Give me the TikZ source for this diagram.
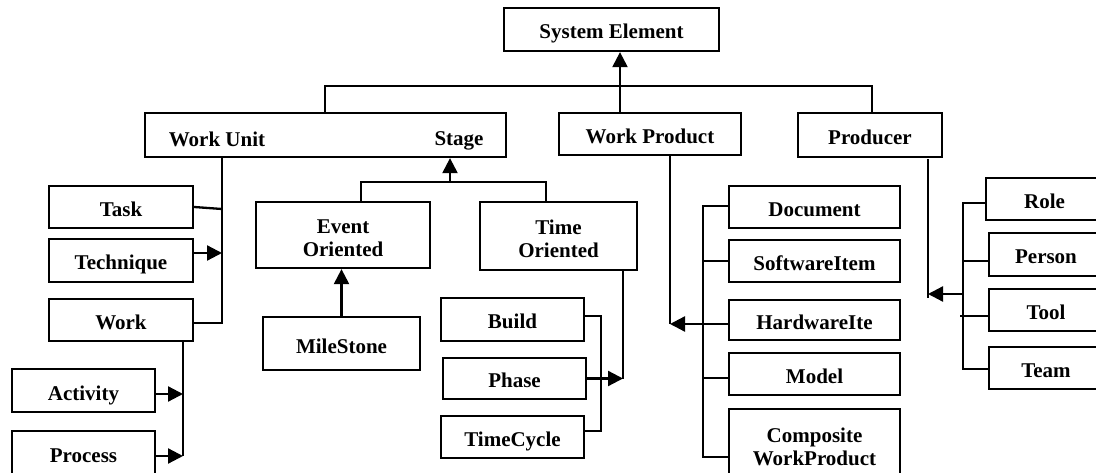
\documentclass[tikz,border=0pt]{standalone}
\usepackage{fontspec}
\setmainfont{Liberation Serif}
\usetikzlibrary{arrows.meta}
\begin{document}
\begin{tikzpicture}[x=1pt,y=-1pt,
  every node/.style={font=\bfseries\fontsize{21}{23}\selectfont},
  box/.style={draw,line width=2.3pt,inner sep=0pt,align=center},
  one/.style={box,text height=19pt,text depth=0pt},
  two/.style={box,text height=44pt,text depth=0pt},
  conn/.style={line width=2.3pt},
  arr/.style={line width=2.3pt,-{Triangle[length=15pt,width=15pt]}}]
\path[use as bounding box] (0,0) rectangle (1096,473);
\clip (0,0) rectangle (1096,473);
% top level
\node[one,minimum width=215,minimum height=43] (sys) at (611.5,29.5) {System Element};
\node[box,minimum width=361,minimum height=44] (wu) at (325.5,135) {};
\node[text depth=0pt] (wutxt) at (217,139) {Work Unit};
\node[text depth=0pt] (sttxt) at (459,139) {Stage};
\node[one,minimum width=182,minimum height=42] (wp) at (650,134) {Work Product};
\node[one,minimum width=144,minimum height=44] (prod) at (870,135) {Producer};
% work unit children
\node[one,minimum width=144,minimum height=42] (task) at (121,207) {Task};
\node[one,minimum width=144,minimum height=43] (tech) at (121,260.5) {Technique};
\node[one,minimum width=144,minimum height=42] (work) at (121,320) {Work};
\node[one,minimum width=143,minimum height=43] (act) at (83.5,390.5) {Activity};
\node[one,minimum width=143,minimum height=44] (proc) at (83.5,453) {Process};
% stage children
\node[two,minimum width=174,minimum height=66] (ev) at (343,235) {Event\\Oriented};
\node[two,minimum width=157,minimum height=68] (to) at (558.5,236) {Time\\Oriented};
\node[one,minimum width=157,minimum height=53] (ms) at (341.5,343.5) {MileStone};
\node[one,minimum width=143,minimum height=43] (build) at (512.5,319.5) {Build};
\node[one,minimum width=143,minimum height=41] (phase) at (514.5,378.5) {Phase};
\node[one,minimum width=143,minimum height=42] (tc) at (512.5,437) {TimeCycle};
% work product children
\node[one,minimum width=171,minimum height=42] (doc) at (814.5,207) {Document};
\node[one,minimum width=171,minimum height=42] (sw) at (814.5,261) {SoftwareItem};
\node[one,minimum width=171,minimum height=40] (hw) at (814.5,320) {HardwareIte};
\node[one,minimum width=171,minimum height=42] (model) at (814.5,374) {Model};
\node[two,minimum width=171,minimum height=68] (comp) at (814.5,443) {Composite\\WorkProduct};
% producer children
\node[one,minimum width=117,minimum height=42] (role) at (1044.5,199) {Role};
\node[one,minimum width=114,minimum height=43] (person) at (1046,254.5) {Person};
\node[one,minimum width=114,minimum height=42] (tool) at (1046,310) {Tool};
\node[one,minimum width=114,minimum height=42] (team) at (1046,368) {Team};
% coordinates
\coordinate (j0) at (620,86);
\coordinate (barL) at (325,86);
\coordinate (barR) at (872,86);
\coordinate (wux) at (222,323);
\coordinate (wkx) at (183,456);
\coordinate (stj) at (450,182);
\coordinate (evx) at (361,182);
\coordinate (tox) at (546,182);
\coordinate (tox2) at (623,378.5);
\coordinate (brT) at (601,316);
\coordinate (brB) at (601,431);
\coordinate (wpx) at (670,324);
\coordinate (bxT) at (703,206);
\coordinate (bxB) at (703,457);
\coordinate (pv) at (928,298);
\coordinate (ptip) at (928,294);
\coordinate (pbx) at (963,294);
\coordinate (rbT) at (963,203);
\coordinate (rbB) at (963,369);
% top connectors
\draw[arr] (wp.north -| j0) -- (sys.south -| j0);
\draw[conn] (wu.north -| barL) -- (barL) -- (barR) -- (prod.north -| barR);
% work unit
\draw[conn] (wu.south -| wux) -- (wux) -- (work.east |- wux);
\draw[conn] (task.east) -- ([yshift=-2pt]task.east -| wux);
\draw[arr] ([yshift=7.5pt]tech.east) -- ([yshift=7.5pt]tech.east -| wux);
\draw[conn] (work.south -| wkx) -- (wkx);
\draw[arr] ([yshift=-3.5pt]act.east) -- ([yshift=-3.5pt]act.east -| wkx);
\draw[arr] (proc.east |- wkx) -- (wkx);
% stage
\draw[arr] (stj) -- (wu.south -| stj);
\draw[conn] (ev.north -| evx) -- (evx) -- (tox) -- (to.north -| tox);
\draw[arr] (ms.north) -- (ev.south -| ms.north);
\draw[conn] (to.south -| tox2) -- (tox2);
\draw[arr] (phase.east) -- (tox2);
\draw[conn] (build.east |- brT) -- (brT) -- (brB) -- (tc.east |- brB);
% work product
\draw[conn] (wp.south -| wpx) -- (wpx);
\draw[arr] (hw.west |- wpx) -- (wpx);
\draw[conn] (doc.west |- bxT) -- (bxT) -- (bxB) -- (comp.west |- bxB);
\draw[conn] (sw.west) -- (sw.west -| bxT);
\draw[conn] ([yshift=-4pt]model.west) -- ([yshift=-4pt]model.west -| bxT);
% producer
\draw[conn] ([yshift=-1pt]prod.south -| pv) -- (pv);
\draw[arr] (pbx) -- (ptip);
\draw[conn] (role.west |- rbT) -- (rbT) -- (rbB) -- (team.west |- rbB);
\draw[conn] ([yshift=-6.5pt]person.west) -- ([yshift=-6.5pt]person.west -| rbT);
\draw[conn] ([yshift=-6pt]tool.west) -- ([yshift=-6pt,xshift=-3pt]tool.west -| rbT);
\end{tikzpicture}
\end{document}
